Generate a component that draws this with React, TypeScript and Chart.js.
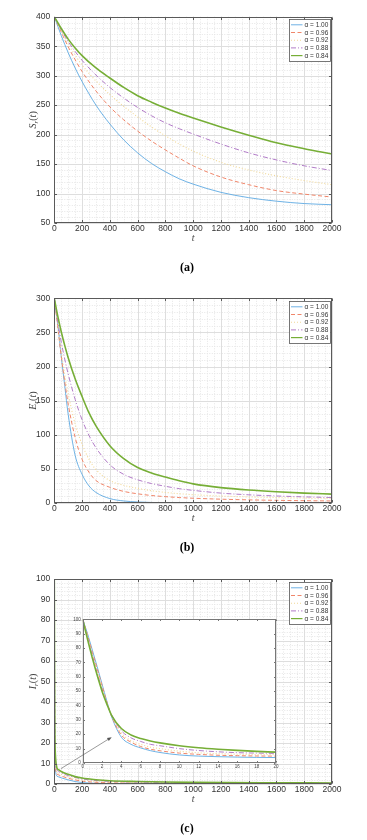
import React, { useEffect, useRef } from "react";
import { Chart, registerables } from "chart.js";
Chart.register(...registerables);

// ---------- data ----------
const ALPHA_LABELS = ["1.00", "0.96", "0.92", "0.88", "0.84"];

const T_A = [0, 50, 100, 150, 200, 300, 400, 500, 600, 700, 800, 900, 1000, 1200, 1400, 1600, 1800, 2000];
const S_100 = [400, 368, 339, 313, 290, 250, 218, 191, 169, 151, 137, 125, 116, 102, 93, 87, 83, 81];
const S_096 = [400, 374, 349, 327, 307, 274, 247, 225, 206, 189, 174, 160, 147, 128, 115, 105, 99, 94];
const S_092 = [400, 376, 354, 335, 318, 291, 268, 248, 230, 213, 198, 184, 172, 153, 140, 130, 122, 115];
const S_088 = [400, 378, 358, 341, 326, 301, 280, 262, 246, 232, 220, 210, 201, 184, 169, 157, 147, 139];
const S_084 = [400, 380, 362, 347, 334, 313, 296, 280, 266, 255, 245, 236, 228, 213, 199, 186, 176, 167];

const T_B = [0, 25, 50, 75, 100, 150, 200, 250, 300, 400, 500, 600, 700, 800, 900, 1000, 1200, 1400, 1600, 1800, 2000];
const E_100 = [300, 262, 215, 172, 130, 70, 42, 25, 15.5, 6.5, 3, 1.5, 0.8, 0.4, 0.2, 0.1, 0, 0, 0, 0, 0];
const E_096 = [300, 258, 215, 178, 145, 96, 64, 45, 33, 23, 17, 13.5, 11, 9.3, 8, 7, 5.6, 4.6, 3.9, 3.4, 3];
const E_092 = [300, 260, 222, 188, 160, 116, 86, 64, 49, 33, 26, 21.5, 18, 15.5, 13.6, 12.2, 10.2, 8.9, 7.9, 7.2, 6.7];
const E_088 = [300, 266, 236, 211, 189, 152, 122, 99, 81, 56, 42, 34, 28.5, 24.5, 21, 18.5, 14.5, 12, 10.3, 9, 8];
const E_084 = [300, 274, 251, 231, 213, 182, 156, 132, 113, 84, 65, 52, 44, 38, 32.5, 28, 22.5, 19, 16.5, 14.5, 13];

const T_C = [0, 0.5, 1, 1.5, 2, 2.5, 3, 4, 5, 6, 7, 8, 10, 12, 14, 16, 18, 20, 30, 50, 100, 150, 200, 300, 400, 600, 800, 1000, 1500, 2000];
const I_100 = [100, 90, 78.5, 67, 55, 43, 32, 18, 13, 10.5, 8.6, 7.3, 5.6, 4.8, 4.4, 4.1, 3.9, 3.8, 3.5, 3.0, 2.0, 1.2, 0.7, 0.35, 0.2, 0.1, 0.06, 0.04, 0.02, 0];
const I_096 = [100, 89, 77, 65.5, 54, 42.5, 32.5, 19.5, 14.5, 11.5, 9.6, 8.5, 6.9, 6, 5.4, 5.1, 4.9, 4.8, 4.5, 3.9, 2.8, 2.0, 1.4, 0.85, 0.6, 0.4, 0.3, 0.25, 0.18, 0.14];
const I_092 = [100, 88, 75.5, 64, 53, 42, 33, 21, 15.5, 13, 11, 10, 8.2, 7.1, 6.5, 6.1, 5.9, 5.8, 5.4, 4.7, 3.5, 2.6, 2.0, 1.3, 1.0, 0.7, 0.55, 0.45, 0.33, 0.28];
const I_088 = [100, 87, 74.5, 62.5, 51.5, 41.5, 33.5, 22.5, 17.5, 15, 13, 12, 10, 8.7, 7.8, 7.2, 6.9, 6.7, 6.2, 5.4, 4.1, 3.2, 2.5, 1.7, 1.3, 0.95, 0.75, 0.62, 0.48, 0.4];
const I_084 = [100, 86, 73, 61, 50, 41, 33, 24, 19.5, 17, 15.3, 14, 12, 10.6, 9.6, 8.8, 8.1, 7.6, 7.0, 6.1, 4.7, 3.6, 2.9, 2.1, 1.6, 1.2, 0.95, 0.8, 0.6, 0.5];

// arrow in panel (c): from a point of the main axes to a point of the inset axes
const ARROW_FROM = { x: 48, y: 7.5 };
const ARROW_TO = { x: 3.0, y: 18 };

// ---------- styles ----------
const COLORS = ["#5ea9e2", "#f0866a", "#f1d896", "#b27cc8", "#76ae36"];
const DASHES: number[][] = [[], [4, 2.5], [1, 2], [5, 2, 1, 2], []];
const WIDTHS = [0.9, 1, 1.1, 1, 1.6];
const SANS = "'Liberation Sans', Arial, sans-serif";
const SERIF = "'Liberation Serif', 'Times New Roman', serif";

const PANEL_H = 280;
const INSET = { left: 60, top: 612, width: 225, height: 164 };

function lineDatasets(ts: number[], series: number[][]) {
  return series.map((vals, i) => ({
    label: "α = " + ALPHA_LABELS[i],
    data: ts.map((t, j) => ({ x: t, y: vals[j] })),
    borderColor: COLORS[i],
    borderWidth: WIDTHS[i],
    borderDash: DASHES[i],
    pointRadius: 0,
    fill: false,
    order: 4 - i,
    cubicInterpolationMode: "monotone",
  }));
}

function steps(min: number, max: number, step: number) {
  const out: number[] = [];
  const n = Math.round((max - min) / step);
  for (let k = 0; k <= n; k++) out.push(min + k * step);
  return out;
}

const plain = (v: any) => String(v);

function drawYLabel(ctx: CanvasRenderingContext2D, letter: string, cx: number, cy: number) {
  const parts = [
    { t: letter, f: `italic 10px ${SERIF}`, dy: 0 },
    { t: "r", f: `italic 7px ${SERIF}`, dy: 2.5 },
    { t: "(", f: `10px ${SERIF}`, dy: 0 },
    { t: "t", f: `italic 10px ${SERIF}`, dy: 0 },
    { t: ")", f: `10px ${SERIF}`, dy: 0 },
  ];
  ctx.save();
  ctx.translate(cx, cy);
  ctx.rotate(-Math.PI / 2);
  let w = 0;
  parts.forEach((p) => {
    ctx.font = p.f;
    w += ctx.measureText(p.t).width;
  });
  let x = -w / 2;
  ctx.fillStyle = "#444";
  ctx.textBaseline = "middle";
  ctx.textAlign = "left";
  parts.forEach((p) => {
    ctx.font = p.f;
    ctx.fillText(p.t, x, p.dy);
    x += ctx.measureText(p.t).width;
  });
  ctx.restore();
}

function decorPlugin(o: any) {
  return {
    id: "decor",
    beforeDatasetsDraw(chart: any) {
      const { ctx, chartArea: a, scales } = chart;
      const x = scales.x, y = scales.y;
      ctx.save();
      ctx.fillStyle = "#fff";
      ctx.fillRect(a.left, a.top, a.right - a.left, a.bottom - a.top);
      if (o.grid) {
        ctx.lineWidth = 1;
        ctx.strokeStyle = "#e6e6e6";
        ctx.setLineDash([1, 1.5]);
        steps(x.min, x.max, o.xMinor).forEach((v) => {
          const px = Math.round(x.getPixelForValue(v)) + 0.5;
          ctx.beginPath(); ctx.moveTo(px, a.top); ctx.lineTo(px, a.bottom); ctx.stroke();
        });
        steps(y.min, y.max, o.yMinor).forEach((v) => {
          const py = Math.round(y.getPixelForValue(v)) + 0.5;
          ctx.beginPath(); ctx.moveTo(a.left, py); ctx.lineTo(a.right, py); ctx.stroke();
        });
        ctx.setLineDash([]);
        ctx.strokeStyle = "#dedede";
        x.ticks.forEach((t: any) => {
          const px = Math.round(x.getPixelForValue(t.value)) + 0.5;
          ctx.beginPath(); ctx.moveTo(px, a.top); ctx.lineTo(px, a.bottom); ctx.stroke();
        });
        y.ticks.forEach((t: any) => {
          const py = Math.round(y.getPixelForValue(t.value)) + 0.5;
          ctx.beginPath(); ctx.moveTo(a.left, py); ctx.lineTo(a.right, py); ctx.stroke();
        });
      }
      ctx.restore();
    },
    afterDatasetsDraw(chart: any) {
      const { ctx, chartArea: a, scales } = chart;
      const x = scales.x, y = scales.y;
      ctx.save();
      ctx.setLineDash([]);
      ctx.strokeStyle = o.axisColor;
      ctx.lineWidth = 1;
      const L = Math.round(a.left) + 0.5, R = Math.round(a.right) - 0.5;
      const T = Math.round(a.top) + 0.5, B = Math.round(a.bottom) - 0.5;
      ctx.strokeRect(L, T, R - L, B - T);
      const tl = o.tickLen;
      x.ticks.forEach((t: any) => {
        const px = Math.round(x.getPixelForValue(t.value)) + 0.5;
        ctx.beginPath();
        ctx.moveTo(px, B); ctx.lineTo(px, B - tl);
        ctx.moveTo(px, T); ctx.lineTo(px, T + tl);
        ctx.stroke();
      });
      y.ticks.forEach((t: any) => {
        const py = Math.round(y.getPixelForValue(t.value)) + 0.5;
        ctx.beginPath();
        ctx.moveTo(L, py); ctx.lineTo(L + tl, py);
        ctx.moveTo(R, py); ctx.lineTo(R - tl, py);
        ctx.stroke();
      });
      if (o.legend) {
        const w = 41, h = 42;
        const left = Math.round(a.right - 43) + 0.5, top = Math.round(a.top + 2.5) + 0.5;
        ctx.fillStyle = "#fff";
        ctx.fillRect(left, top, w, h);
        ctx.strokeStyle = "#555";
        ctx.lineWidth = 0.8;
        ctx.strokeRect(left, top, w, h);
        chart.data.datasets.forEach((ds: any, i: number) => {
          const yy = top + 5.3 + i * 7.7;
          ctx.strokeStyle = ds.borderColor;
          ctx.lineWidth = Math.min(ds.borderWidth, 1.2);
          ctx.setLineDash(ds.borderDash);
          ctx.beginPath(); ctx.moveTo(left + 1.5, yy); ctx.lineTo(left + 13, yy); ctx.stroke();
          ctx.setLineDash([]);
          ctx.fillStyle = "#333";
          ctx.font = `6.5px ${SANS}`;
          ctx.textBaseline = "middle";
          ctx.textAlign = "left";
          ctx.fillText(ds.label, left + 15, yy + 0.5);
        });
      }
      if (o.letter) {
        drawYLabel(ctx, o.letter, 33.5, (a.top + a.bottom) / 2);
        ctx.fillStyle = "#444";
        ctx.font = `italic 10px ${SERIF}`;
        ctx.textAlign = "center";
        ctx.textBaseline = "middle";
        ctx.fillText("t", (a.left + a.right) / 2, a.bottom + 15);
      }
      if (o.caption) {
        ctx.fillStyle = "#000";
        ctx.font = `bold 12px ${SERIF}`;
        ctx.textAlign = "center";
        ctx.textBaseline = "middle";
        ctx.fillText(o.caption, 187, a.bottom + 45);
      }
      if (o.arrow) o.arrow(ctx, chart);
      ctx.restore();
    },
  };
}

function mainConfig(ts: number[], series: number[][], yMin: number, yMax: number, yStep: number,
  yMinor: number, letter: string, caption: string, padTop: number, bottomY: number) {
  return {
    type: "line",
    data: { datasets: lineDatasets(ts, series) },
    options: {
      animation: false,
      responsive: false,
      maintainAspectRatio: false,
      events: [],
      layout: { padding: { left: 0, right: 35, top: padTop, bottom: PANEL_H - 20 - bottomY } },
      plugins: { legend: { display: false }, tooltip: { enabled: false } },
      scales: {
        x: {
          type: "linear", min: 0, max: 2000,
          ticks: { stepSize: 200, autoSkip: false, maxRotation: 0, padding: 1, color: "#333", font: { family: SANS, size: 8.5 }, callback: plain },
          grid: { display: false, drawTicks: false },
          border: { display: false },
          afterFit: (s: any) => { s.height = 20; },
        },
        y: {
          type: "linear", min: yMin, max: yMax,
          ticks: { stepSize: yStep, autoSkip: false, padding: 4, color: "#333", font: { family: SANS, size: 8.5 }, callback: plain },
          grid: { display: false, drawTicks: false },
          border: { display: false },
          afterFit: (s: any) => { s.width = 54.3; },
        },
      },
    },
    plugins: [decorPlugin({ grid: true, xMinor: 50, yMinor, legend: true, letter, caption, axisColor: "#5a5a5a", tickLen: 2.5 })],
  };
}

export default function App() {
  const aRef = useRef<HTMLCanvasElement>(null);
  const bRef = useRef<HTMLCanvasElement>(null);
  const cRef = useRef<HTMLCanvasElement>(null);
  const insRef = useRef<HTMLCanvasElement>(null);

  useEffect(() => {
    const charts: Chart[] = [];
    charts.push(new Chart(aRef.current as any, mainConfig(T_A, [S_100, S_096, S_092, S_088, S_084], 50, 400, 50, 10, "S", "(a)", 16.7, 223) as any));
    charts.push(new Chart(bRef.current as any, mainConfig(T_B, [E_100, E_096, E_092, E_088, E_084], 0, 300, 50, 10, "E", "(b)", 18.3, 223) as any));
    const mainC = new Chart(cRef.current as any, mainConfig(T_C, [I_100, I_096, I_092, I_088, I_084], 0, 100, 10, 2, "I", "(c)", 19, 224) as any);
    charts.push(mainC);

    const arrow = (ctx: CanvasRenderingContext2D, chart: any) => {
      const x0 = mainC.scales.x.getPixelForValue(ARROW_FROM.x) - INSET.left;
      const y0 = mainC.scales.y.getPixelForValue(ARROW_FROM.y) + 2 * PANEL_H - INSET.top;
      const x1 = chart.scales.x.getPixelForValue(ARROW_TO.x);
      const y1 = chart.scales.y.getPixelForValue(ARROW_TO.y);
      const ang = Math.atan2(y1 - y0, x1 - x0);
      ctx.strokeStyle = "#555";
      ctx.fillStyle = "#555";
      ctx.lineWidth = 0.6;
      ctx.setLineDash([]);
      ctx.beginPath(); ctx.moveTo(x0, y0); ctx.lineTo(x1 - 3 * Math.cos(ang), y1 - 3 * Math.sin(ang)); ctx.stroke();
      const hl = 4.5, hw = 1.8;
      ctx.beginPath();
      ctx.moveTo(x1, y1);
      ctx.lineTo(x1 - hl * Math.cos(ang) + hw * Math.sin(ang), y1 - hl * Math.sin(ang) - hw * Math.cos(ang));
      ctx.lineTo(x1 - hl * Math.cos(ang) - hw * Math.sin(ang), y1 - hl * Math.sin(ang) + hw * Math.cos(ang));
      ctx.closePath();
      ctx.fill();
    };

    const insetCfg = {
      type: "line",
      data: { datasets: lineDatasets(T_C, [I_100, I_096, I_092, I_088, I_084]) },
      options: {
        animation: false,
        responsive: false,
        maintainAspectRatio: false,
        events: [],
        layout: { padding: { left: 0, right: 9, top: 7.3, bottom: 0 } },
        plugins: { legend: { display: false }, tooltip: { enabled: false } },
        scales: {
          x: {
            type: "linear", min: 0, max: 20,
            ticks: { stepSize: 2, autoSkip: false, maxRotation: 0, padding: 1, color: "#444", font: { family: SANS, size: 4.5 }, callback: plain },
            grid: { display: false, drawTicks: false },
            border: { display: false },
            afterFit: (s: any) => { s.height = 13; },
          },
          y: {
            type: "linear", min: 0, max: 100,
            ticks: { stepSize: 10, autoSkip: false, padding: 2, color: "#444", font: { family: SANS, size: 4.5 }, callback: plain },
            grid: { display: false, drawTicks: false },
            border: { display: false },
            afterFit: (s: any) => { s.width = 22.7; },
          },
        },
      },
      plugins: [decorPlugin({ grid: false, legend: false, axisColor: "#777", tickLen: 1.5, arrow })],
    };
    charts.push(new Chart(insRef.current as any, insetCfg as any));

    return () => charts.forEach((c) => c.destroy());
  }, []);

  return (
    <div style={{ position: "absolute", left: 0, top: 0, width: 367, height: 840, background: "#fff", overflow: "hidden" }}>
      <canvas ref={aRef} width={367} height={PANEL_H} style={{ position: "absolute", left: 0, top: 0 }} />
      <canvas ref={bRef} width={367} height={PANEL_H} style={{ position: "absolute", left: 0, top: PANEL_H }} />
      <canvas ref={cRef} width={367} height={PANEL_H} style={{ position: "absolute", left: 0, top: 2 * PANEL_H }} />
      <canvas ref={insRef} width={INSET.width} height={INSET.height}
        style={{ position: "absolute", left: INSET.left, top: INSET.top }} />
    </div>
  );
}
